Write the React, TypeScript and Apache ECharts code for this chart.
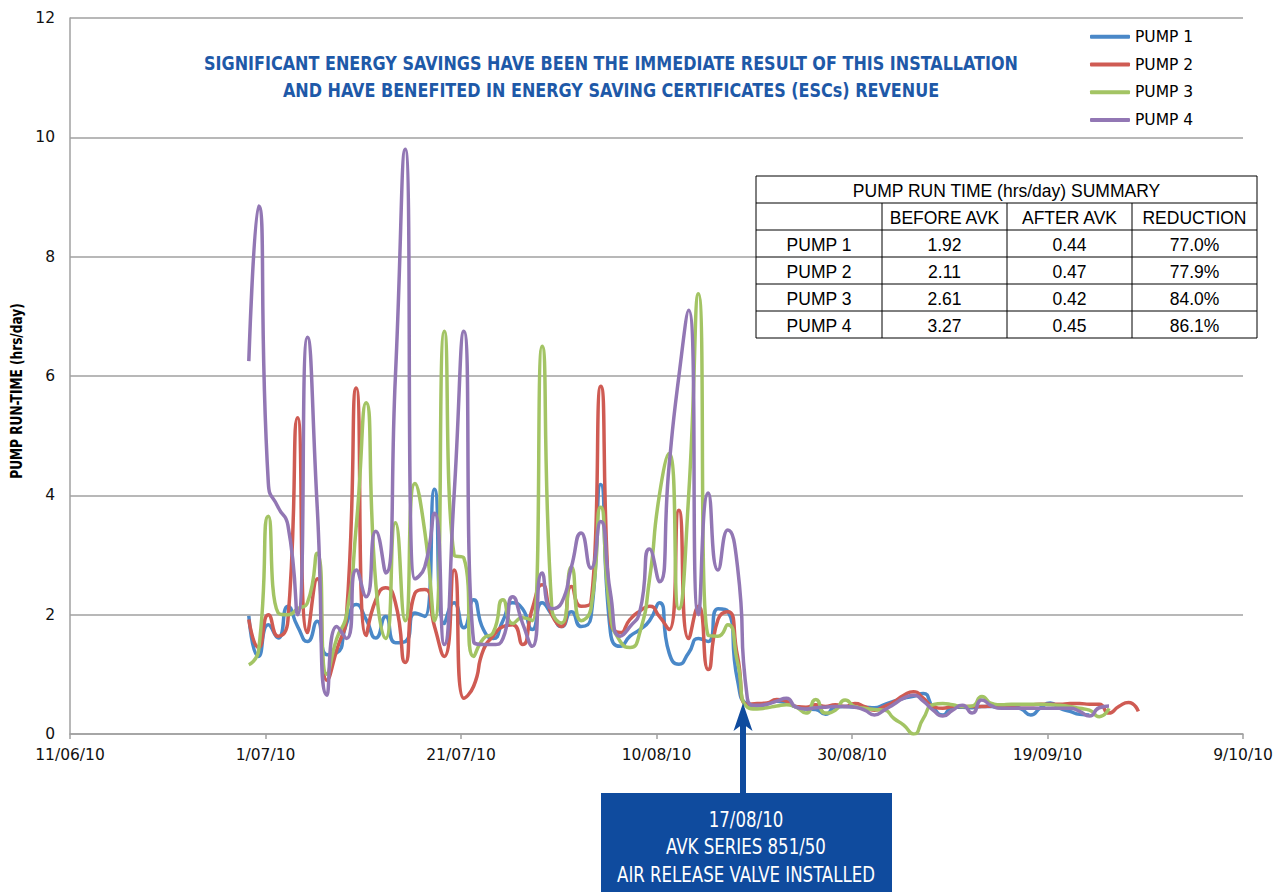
import React, { useEffect, useRef } from 'react';
import * as echarts from 'echarts';

// ---- data -------------------------------------------------------------
const xTickLabels = ['11/06/10', '1/07/10', '21/07/10', '10/08/10', '30/08/10', '19/09/10', '9/10/10'];
const FIRST_READING_DAY = 18; // 29/06/10 = 18 days after 11/06/10
const READING_HOUR = 7;
const seriesNames = ['PUMP 1', 'PUMP 2', 'PUMP 3', 'PUMP 4'];
const seriesColors = ['#4a88c8', '#cf5b53', '#a3c464', '#9277b4'];

const pump1 = [
  1.98, 1.3, 1.83, 1.61, 2.14, 1.8, 1.55, 1.89, 1.33, 1.36,
  1.85, 2.17, 1.92, 1.61, 1.97, 1.53, 1.55, 2.03, 1.97, 4.1,
  1.85, 2.2, 1.78, 2.25, 1.75, 1.6, 1.9, 2.2, 2.1, 1.75,
  2.2, 2.0, 1.8, 2.05, 1.8, 1.95, 4.18, 1.7, 1.47, 1.64,
  1.75, 1.9, 2.2, 1.36, 1.17, 1.36, 1.6, 1.55, 2.1, 2.06,
  0.9, 0.5, 0.47, 0.5, 0.55, 0.52, 0.45, 0.42, 0.41, 0.33,
  0.45, 0.46, 0.45, 0.45, 0.44, 0.49, 0.55, 0.6, 0.63, 0.68,
  0.45, 0.32, 0.45, 0.45, 0.44, 0.46, 0.46, 0.44, 0.46, 0.42,
  0.32, 0.44, 0.52, 0.43, 0.38, 0.33, 0.32,
];
const pump2 = [
  1.92, 1.45, 2.0, 1.64, 1.9, 5.3, 1.7, 2.6, 0.9, 1.41,
  2.0, 5.8, 1.65, 2.25, 2.45, 2.2, 1.2, 2.36, 2.42, 1.8,
  1.3, 2.75, 0.6, 0.8, 1.41, 1.64, 1.8, 1.83, 1.5, 2.1,
  2.5, 2.0, 1.8, 2.47, 2.14, 2.2, 5.83, 1.9, 1.7, 1.92,
  2.06, 2.14, 1.97, 1.75, 3.75, 1.6, 2.14, 1.08, 1.92, 2.05,
  1.3, 0.5, 0.51, 0.52, 0.58, 0.55, 0.46, 0.45, 0.49, 0.46,
  0.49, 0.46, 0.51, 0.46, 0.4, 0.46, 0.54, 0.65, 0.71, 0.6,
  0.46, 0.43, 0.46, 0.46, 0.46, 0.46, 0.47, 0.48, 0.48, 0.49,
  0.49, 0.5, 0.5, 0.5, 0.51, 0.51, 0.5, 0.5, 0.35, 0.46,
  0.53, 0.38,
];
const pump3 = [
  1.16, 1.4, 3.65, 2.03, 2.0, 2.1, 2.2, 3.03, 1.0, 1.6,
  2.0, 3.5, 5.55, 2.5, 1.6, 3.54, 1.9, 4.2, 3.4, 1.9,
  6.75, 3.0, 2.95, 1.3, 1.6, 1.7, 2.25, 1.85, 1.95, 1.9,
  6.5, 2.1, 1.86, 2.8, 1.9, 2.1, 3.8, 2.0, 1.55, 1.45,
  1.7, 2.6, 4.0, 4.7, 2.1, 4.0, 7.38, 1.65, 1.64, 1.83,
  1.2, 0.45, 0.42, 0.44, 0.47, 0.49, 0.45, 0.35, 0.58, 0.35,
  0.4, 0.57, 0.46, 0.43, 0.41, 0.4, 0.26, 0.15, 0.0, 0.26,
  0.49, 0.51, 0.49, 0.46, 0.47, 0.63, 0.51, 0.49, 0.5, 0.5,
  0.5, 0.5, 0.49, 0.48, 0.46, 0.43, 0.4, 0.29, 0.43,
];
const pump4 = [
  6.25, 8.85, 4.2, 3.8, 3.5, 2.0, 6.65, 3.8, 0.65, 1.8,
  1.6, 2.75, 2.3, 3.4, 2.7, 6.0, 9.8, 2.6, 2.8, 3.7,
  1.5, 4.0, 6.75, 1.55, 1.5, 1.5, 1.6, 2.3, 1.86, 1.47,
  2.7, 2.1, 2.2, 2.8, 3.37, 2.78, 3.56, 2.36, 1.64, 1.8,
  2.05, 3.1, 2.55, 4.5, 6.0, 7.1, 2.0, 4.04, 2.75, 3.42,
  2.8, 0.6, 0.48, 0.5, 0.55, 0.6, 0.45, 0.42, 0.44, 0.45,
  0.46, 0.46, 0.45, 0.4, 0.32, 0.4, 0.5, 0.6, 0.65, 0.55,
  0.4, 0.3, 0.4, 0.48, 0.35, 0.57, 0.47, 0.43, 0.43, 0.43,
  0.43, 0.43, 0.43, 0.43, 0.43, 0.38, 0.3, 0.44, 0.47,
];
const pumpSeries = [pump1, pump2, pump3, pump4];

const titleLines = [
  'SIGNIFICANT ENERGY SAVINGS HAVE BEEN THE IMMEDIATE RESULT OF THIS INSTALLATION',
  'AND HAVE BENEFITED IN ENERGY SAVING CERTIFICATES (ESCs) REVENUE',
];
const yAxisTitle = 'PUMP RUN-TIME (hrs/day)';

const summaryTitle = 'PUMP RUN TIME (hrs/day) SUMMARY';
const summaryColumns = ['', 'BEFORE AVK', 'AFTER AVK', 'REDUCTION'];
const summaryPumps = ['PUMP 1', 'PUMP 2', 'PUMP 3', 'PUMP 4'];
const summaryBefore = ['1.92', '2.11', '2.61', '3.27'];
const summaryAfter = ['0.44', '0.47', '0.42', '0.45'];
const summaryReduction = ['77.0%', '77.9%', '84.0%', '86.1%'];

const annotationLines = ['17/08/10', 'AVK SERIES 851/50', 'AIR RELEASE VALVE INSTALLED'];

// ---- chart ------------------------------------------------------------
const NARROW = '"Liberation Sans Narrow", "DejaVu Sans Condensed", "Roboto Condensed", sans-serif';
const ARIAL = '"Liberation Sans", Arial, sans-serif';
const VERDANA = '"DejaVu Sans", Verdana, sans-serif';

function buildTable(): any[] {
  const cols = [756, 882, 1007, 1132, 1257];
  const rows = [176, 203, 230, 257, 284, 311, 338];
  const els: any[] = [];
  els.push({
    type: 'rect',
    shape: { x: cols[0], y: rows[0], width: cols[4] - cols[0], height: rows[6] - rows[0] },
    style: { fill: '#ffffff', stroke: '#000000', lineWidth: 1 },
    z: 100,
  });
  for (let r = 1; r < 6; r++) {
    els.push({
      type: 'line',
      shape: { x1: cols[0], y1: rows[r], x2: cols[4], y2: rows[r] },
      style: { stroke: '#000000', lineWidth: 1 },
      z: 101,
    });
  }
  for (let c = 1; c < 4; c++) {
    els.push({
      type: 'line',
      shape: { x1: cols[c], y1: rows[1], x2: cols[c], y2: rows[6] },
      style: { stroke: '#000000', lineWidth: 1 },
      z: 101,
    });
  }
  const txt = (text: string, x: number, y: number) => ({
    type: 'text',
    z: 102,
    style: {
      text,
      x,
      y,
      align: 'center',
      verticalAlign: 'middle',
      fill: '#000000',
      fontFamily: ARIAL,
      fontSize: 17.5,
    },
  });
  els.push(txt(summaryTitle, (cols[0] + cols[4]) / 2, (rows[0] + rows[1]) / 2 + 1));
  summaryColumns.forEach((t, i) => {
    if (t) els.push(txt(t, (cols[i] + cols[i + 1]) / 2, (rows[1] + rows[2]) / 2 + 1));
  });
  summaryPumps.forEach((p, r) => {
    const cy = (rows[r + 2] + rows[r + 3]) / 2 + 1;
    const vals = [p, summaryBefore[r], summaryAfter[r], summaryReduction[r]];
    vals.forEach((v, i) => els.push(txt(v, (cols[i] + cols[i + 1]) / 2, cy)));
  });
  return els;
}

export default function App() {
  const ref = useRef<HTMLDivElement>(null);

  useEffect(() => {
    if (!ref.current) return;
    const chart = echarts.init(ref.current, null, { renderer: 'svg' });

    const series = pumpSeries.map((vals, k) => ({
      name: seriesNames[k],
      type: 'line',
      smooth: 0.6,
      symbol: 'none',
      data: vals.map((v, i) => [FIRST_READING_DAY + i + READING_HOUR / 24, v]),
      lineStyle: { color: seriesColors[k], width: 3.5 },
      itemStyle: { color: seriesColors[k] },
      z: 2 + k,
    }));

    const graphics: any[] = [
      ...titleLines.map((t, i) => ({
        type: 'text',
        z: 50,
        x: 611,
        y: 63 + i * 27,
        scaleX: 0.89,
        style: {
          text: t,
          x: 0,
          y: 0,
          align: 'center',
          verticalAlign: 'middle',
          fill: '#1e59a8',
          fontFamily: NARROW,
          fontWeight: 'bold',
          fontSize: 20,
        },
      })),
      {
        type: 'text',
        z: 50,
        rotation: Math.PI / 2,
        x: 17,
        y: 391,
        scaleX: 0.9,
        style: {
          text: yAxisTitle,
          x: 0,
          y: 0,
          align: 'center',
          verticalAlign: 'middle',
          fill: '#000000',
          fontFamily: NARROW,
          fontWeight: 'bold',
          fontSize: 15,
        },
      },
      ...buildTable(),
      {
        type: 'rect',
        z: 60,
        shape: { x: 601, y: 793, width: 291, height: 99 },
        style: { fill: '#0f4b9e' },
      },
      {
        type: 'rect',
        z: 60,
        shape: { x: 740, y: 722, width: 6, height: 72 },
        style: { fill: '#0f4b9e' },
      },
      {
        type: 'polygon',
        z: 60,
        shape: { points: [[743, 703], [752.5, 731], [743, 724], [733.5, 731]] },
        style: { fill: '#0f4b9e' },
      },
      ...annotationLines.map((t, i) => ({
        type: 'text',
        z: 61,
        x: 746,
        y: 820 + i * 27.5,
        scaleX: 0.9,
        style: {
          text: t,
          x: 0,
          y: 0,
          align: 'center',
          verticalAlign: 'middle',
          fill: '#ffffff',
          fontFamily: NARROW,
          fontSize: 20.5,
        },
      })),
    ];

    chart.setOption({
      animation: false,
      backgroundColor: '#ffffff',
      grid: { left: 70, right: 44, top: 18, bottom: 158, containLabel: false },
      legend: {
        orient: 'vertical',
        left: 1085,
        top: 23,
        icon: 'roundRect',
        itemWidth: 40,
        itemHeight: 4,
        itemGap: 10,
        data: seriesNames,
        textStyle: { fontFamily: VERDANA, fontSize: 15.5, color: '#000000', lineHeight: 17.7 },
      },
      xAxis: {
        type: 'value',
        min: 0,
        max: 120,
        interval: 20,
        axisLine: { show: true, lineStyle: { color: '#a0a0a0', width: 1.5 } },
        axisTick: { show: true, length: 5, lineStyle: { color: '#a0a0a0', width: 1.5 } },
        splitLine: { show: false },
        axisLabel: {
          margin: 13,
          color: '#111111',
          fontFamily: VERDANA,
          fontSize: 15.5,
          formatter: (v: number) => xTickLabels[Math.round(v / 20)] ?? '',
        },
      },
      yAxis: {
        type: 'value',
        min: 0,
        max: 12,
        interval: 2,
        axisLine: { show: true, lineStyle: { color: '#a0a0a0', width: 1.5 } },
        axisTick: { show: false },
        splitLine: { show: true, lineStyle: { color: '#a0a0a0', width: 1.5 } },
        axisLabel: {
          margin: 15,
          color: '#111111',
          fontFamily: VERDANA,
          fontSize: 15.5,
        },
      },
      series,
      graphic: graphics,
    });

    return () => chart.dispose();
  }, []);

  return (
    <div
      ref={ref}
      style={{ position: 'absolute', left: 0, top: 0, width: 1287, height: 892 }}
    />
  );
}
